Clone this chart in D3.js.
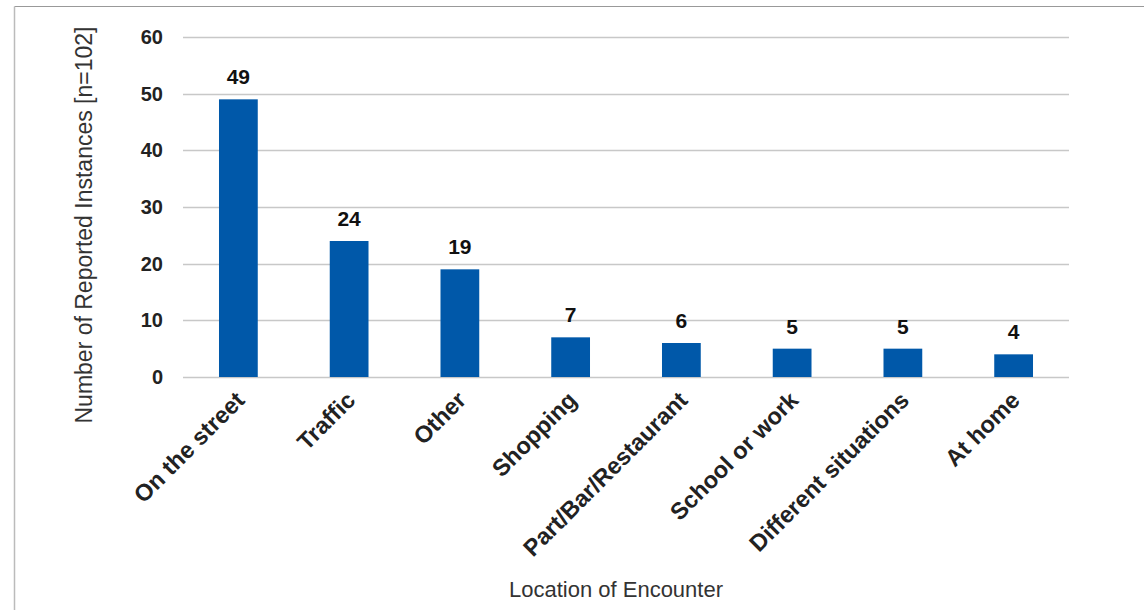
<!DOCTYPE html>
<html>
<head>
<meta charset="utf-8">
<script src="https://cdn.jsdelivr.net/npm/d3@7"></script>
<style>
  body { margin: 0; background: #fff; }
  text { font-family: "Liberation Sans", Arial, sans-serif; }
</style>
</head>
<body>
<svg width="1144" height="610"></svg>
<script>
var categories = ["On the street", "Traffic", "Other", "Shopping", "Part/Bar/Restaurant",
  "School or work", "Different situations", "At home"];
var counts = [49, 24, 19, 7, 6, 5, 5, 4];
var yTicks = [0, 10, 20, 30, 40, 50, 60];

var svg = d3.select("svg");

// frame lines (left + top)
svg.append("line").attr("x1", 14.5).attr("y1", 6.5).attr("x2", 1144).attr("y2", 6.5)
  .attr("stroke", "#999").attr("stroke-width", 1);
svg.append("line").attr("x1", 14.5).attr("y1", 6.5).attr("x2", 14.5).attr("y2", 610)
  .attr("stroke", "#bbb").attr("stroke-width", 1.5);

var x = d3.scaleBand().domain(categories).range([183, 1069]).paddingInner(0.65).paddingOuter(0.325);
var y = d3.scaleLinear().domain([0, 60]).range([377, 37]);

// gridlines
svg.append("g")
  .selectAll("line")
  .data(yTicks)
  .enter()
  .append("line")
  .attr("x1", 183).attr("x2", 1069)
  .attr("y1", function (d) { return Math.round(y(d)) + 0.5; })
  .attr("y2", function (d) { return Math.round(y(d)) + 0.5; })
  .attr("stroke", "#c8c8c8").attr("stroke-width", 1.3);

// y axis labels
var yAxis = svg.append("g")
  .attr("transform", "translate(163,0)")
  .call(d3.axisLeft(y).tickValues(yTicks).tickSize(0).tickPadding(0));
yAxis.select(".domain").remove();
yAxis.selectAll("text")
  .attr("font-size", 20).attr("font-weight", "bold").attr("fill", "#222")
  .attr("font-family", "'Liberation Sans', Arial, sans-serif");

// bars
svg.append("g")
  .selectAll("rect")
  .data(counts)
  .enter()
  .append("rect")
  .attr("x", function (d, i) { return x(categories[i]); })
  .attr("width", x.bandwidth())
  .attr("y", function (d) { return y(d); })
  .attr("height", function (d) { return y(0) - y(d); })
  .attr("fill", "#0058a9");

// value labels
svg.append("g")
  .selectAll("text")
  .data(counts)
  .enter()
  .append("text")
  .attr("x", function (d, i) { return x(categories[i]) + x.bandwidth() / 2; })
  .attr("y", function (d) { return y(d) - 15; })
  .attr("text-anchor", "middle")
  .attr("font-size", 21).attr("font-weight", "bold").attr("fill", "#111")
  .text(function (d) { return d; });

// x category labels
svg.append("g")
  .selectAll("text")
  .data(categories)
  .enter()
  .append("text")
  .attr("transform", function (d) {
    var cx = x(d) + x.bandwidth() / 2 - 4;
    return "translate(" + cx + ",390) rotate(-45)";
  })
  .attr("text-anchor", "end")
  .attr("dy", "0.7em")
  .attr("font-size", 23.5).attr("font-weight", "bold").attr("fill", "#222")
  .text(function (d) { return d; });

// axis titles
svg.append("text")
  .attr("transform", "translate(92,225) rotate(-90)")
  .attr("text-anchor", "middle")
  .attr("font-size", 23).attr("fill", "#333")
  .text("Number of Reported Instances [n=102]");

svg.append("text")
  .attr("x", 616).attr("y", 597)
  .attr("text-anchor", "middle")
  .attr("font-size", 22).attr("fill", "#333")
  .text("Location of Encounter");
</script>
</body>
</html>
